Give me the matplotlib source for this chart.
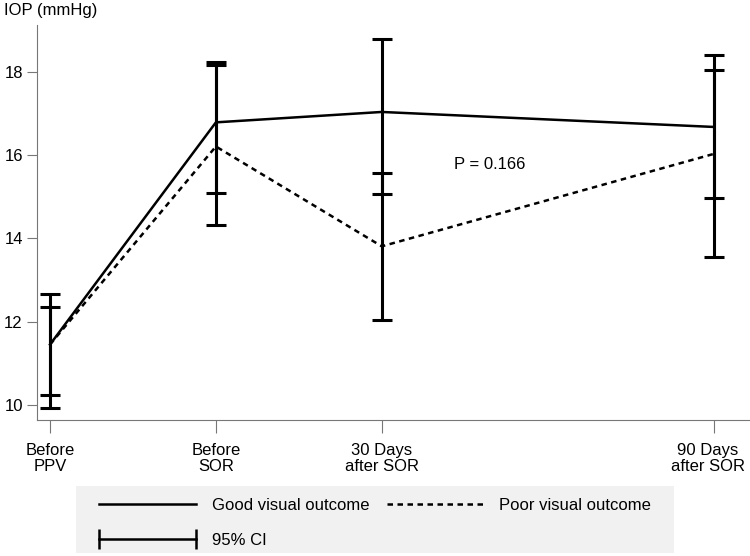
import matplotlib
matplotlib.use("Agg")
from matplotlib import pyplot as plt
from matplotlib.lines import Line2D
from matplotlib.patches import Rectangle
from matplotlib.transforms import ScaledTranslation
from matplotlib.legend_handler import HandlerLine2D

plt.rcParams['font.family'] = ['Liberation Sans', 'DejaVu Sans']
FS = 12

# time points (position on axis) and labels
x_pos = [0, 1, 2, 4]
x_labels = ["Before\nPPV", "Before\nSOR", "30 Days\nafter SOR", "90 Days\nafter SOR"]

# mean IOP and 95% CI
good_mean = [11.45, 16.79, 17.04, 16.68]
good_lo = [10.23, 15.09, 15.06, 14.98]
good_hi = [12.66, 18.24, 18.80, 18.41]

poor_mean = [11.45, 16.21, 13.81, 16.03]
poor_lo = [9.92, 14.33, 12.03, 13.55]
poor_hi = [12.36, 18.16, 15.58, 18.05]

fig = plt.figure(figsize=(7.5, 5.56), dpi=100)
ax = fig.add_axes([0.049, 0.245, 0.951, 0.71])

dash = (0, (2.2, 1.8))
ax.plot(x_pos, good_mean, color="black", lw=1.8, zorder=3)
ax.plot(x_pos, poor_mean, color="black", lw=1.8, linestyle=dash, zorder=3)

for mean, lo, hi in [(good_mean, good_lo, good_hi), (poor_mean, poor_lo, poor_hi)]:
    yerr = [[m - l for m, l in zip(mean, lo)], [h - m for m, h in zip(mean, hi)]]
    ax.errorbar(x_pos, mean, yerr=yerr, fmt="none", ecolor="black",
                elinewidth=2.2, capsize=7, capthick=2.2, zorder=2)

ax.text(2.65, 15.77, "P = 0.166", fontsize=FS, ha="center", va="center")

ax.set_xlim(-0.08, 4.22)
ax.set_ylim(9.64, 19.13)
ax.set_yticks([10, 12, 14, 16, 18])
ax.set_xticks(x_pos)
ax.set_xticklabels(x_labels, linespacing=1.05)
ax.tick_params(axis="both", labelsize=FS, color="#777777", width=0.8)
ax.tick_params(axis="x", length=9, pad=8)
ax.tick_params(axis="y", length=7, pad=3)
for s in ["top", "right"]:
    ax.spines[s].set_visible(False)
for s in ["left", "bottom"]:
    ax.spines[s].set_color("#777777")
    ax.spines[s].set_linewidth(0.8)

# last label sits a little left of its tick so it fits the figure
last = ax.get_xticklabels()[-1]
last.set_transform(last.get_transform() + ScaledTranslation(-4 / 72, 0, fig.dpi_scale_trans))

fig.text(0.006, 0.982, "IOP (mmHg)", fontsize=FS, ha="left", va="center")

# legend background
fig.patches.append(Rectangle((76 / 750, 1 - 553 / 556), 598 / 750, 67 / 556,
                             transform=fig.transFigure, facecolor="#f1f1f1",
                             edgecolor="none", zorder=0))

h_good = Line2D([], [], color="black", lw=1.8)
h_poor = Line2D([], [], color="black", lw=1.8, linestyle=dash)
h_ci = Line2D([], [], color="black", lw=1.8, marker="|", markersize=14,
              markeredgewidth=1.8)
leg = fig.legend([h_good, h_ci, h_poor],
                 ["Good visual outcome", "95% CI", "Poor visual outcome"],
                 ncol=2, loc="upper left", bbox_to_anchor=(99 / 750, 1 - 498 / 556),
                 frameon=False, fontsize=FS, handlelength=5.8,
                 handletextpad=0.95, borderaxespad=0, labelspacing=1.2,
                 borderpad=0, columnspacing=1.05,
                 handler_map={h_ci: HandlerLine2D(numpoints=2, marker_pad=0)})

fig.savefig("out.png", dpi=100)
